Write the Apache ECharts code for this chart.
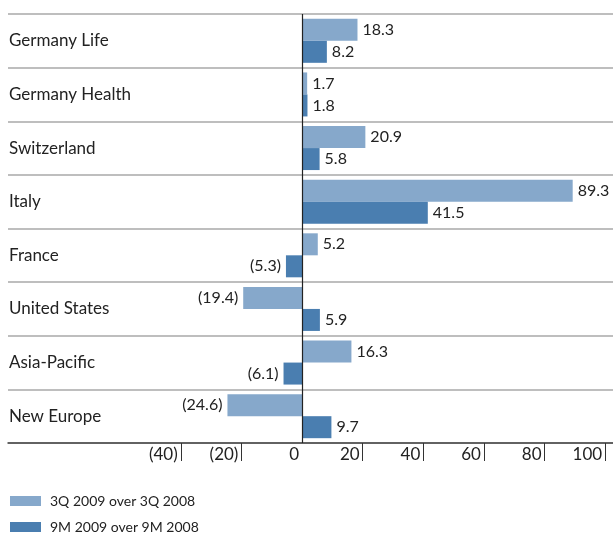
<!DOCTYPE html>
<html>
<head>
<meta charset="utf-8">
<script src="https://cdn.jsdelivr.net/npm/echarts@6/dist/echarts.min.js"></script>
<style>
  html, body { margin: 0; padding: 0; background: #fff; }
  #chart { width: 613px; height: 533px; }
</style>
</head>
<body>
<div id="chart"></div>
<script>
const categories = ['Germany Life', 'Germany Health', 'Switzerland', 'Italy', 'France', 'United States', 'Asia-Pacific', 'New Europe']
const q3Values = [18.3, 1.7, 20.9, 89.3, 5.2, -19.4, 16.3, -24.6]
const m9Values = [8.2, 1.8, 5.8, 41.5, -5.3, 5.9, -6.1, 9.7]
const seriesNames = ['3Q 2009 over 3Q 2008', '9M 2009 over 9M 2008']
const tickValues = [-40, -20, 0, 20, 40, 60, 80, 100]

const FONT = "Lato, 'Open Sans', sans-serif"
const fmt = v => (v < 0 ? '(' + Math.abs(v).toFixed(1) + ')' : v.toFixed(1))

const toItems = vals => vals.map(v => ({
  value: v,
  label: { position: v < 0 ? 'left' : 'right' },
}))

const chart = echarts.init(document.getElementById('chart'))

const barLabel = {
  show: true,
  distance: 5,
  color: '#222',
  fontSize: 16,
  fontFamily: FONT,
  formatter: p => fmt(p.value),
}

// one legend per series so they stack at the bottom left
const legendFor = (name, top) => ({
  left: 10,
  top: top,
  padding: 0,
  icon: 'rect',
  itemWidth: 31,
  itemHeight: 10,
  textStyle: { fontSize: 14, lineHeight: 16, color: '#222', fontFamily: FONT, padding: [0, 0, 0, 4] },
  data: [name],
})

chart.setOption({
  animation: false,
  textStyle: { fontFamily: FONT },
  grid: { left: 8, right: 0, top: 14, bottom: 90 },
  legend: [legendFor(seriesNames[0], 493), legendFor(seriesNames[1], 519)],
  xAxis: {
    type: 'value',
    min: -97,
    max: 102.6,
    axisLine: { show: true, lineStyle: { color: '#444', width: 1.5 } },
    splitLine: { show: false },
    axisTick: {
      show: true,
      customValues: tickValues.filter(v => v !== 0),
      length: 18,
      lineStyle: { color: '#333' },
    },
    axisLabel: {
      customValues: tickValues,
      align: 'right',
      margin: 3,
      padding: [0, 3, 0, 0],
      fontSize: 17,
      color: '#222',
      fontFamily: FONT,
      formatter: v => (v < 0 ? '(' + Math.abs(v) + ')' : String(v)),
    },
  },
  yAxis: {
    type: 'category',
    data: categories,
    inverse: true,
    axisLine: { show: false, onZero: false },
    axisTick: { show: false },
    axisLabel: {
      inside: true,
      margin: 1,
      fontSize: 17,
      color: '#222',
      fontFamily: FONT,
    },
    splitLine: { show: true, lineStyle: { color: '#a8a8a8', width: 1.5 } },
  },
  series: [
    {
      name: seriesNames[0],
      type: 'bar',
      data: toItems(q3Values),
      barWidth: 22,
      barGap: '0%',
      itemStyle: { color: '#86a8cb' },
      label: barLabel,
      markLine: {
        silent: true,
        symbol: 'none',
        label: { show: false },
        lineStyle: { color: '#222', type: 'solid', width: 1.2 },
        data: [{ xAxis: 0 }],
      },
    },
    {
      name: seriesNames[1],
      type: 'bar',
      data: toItems(m9Values),
      barWidth: 22,
      itemStyle: { color: '#4a7eb0' },
      label: barLabel,
    },
  ],
})
</script>
</body>
</html>
